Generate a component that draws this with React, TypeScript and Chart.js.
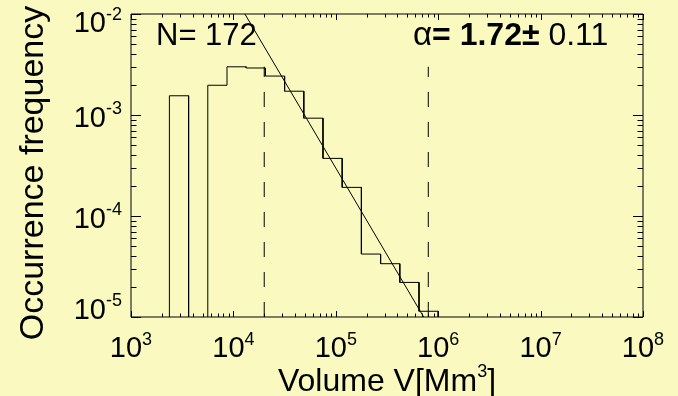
import React, { useEffect, useRef } from "react";
import { Chart, registerables } from "chart.js";

Chart.register(...registerables);

// ---- data ----
const binEdges = [2371, 3652, 5623, 8660, 13335, 20535, 31623, 48697, 74989, 115478, 177828, 273842, 421697, 649382, 1000000];
const binFreq = [1.55e-3, 0, 1.97e-3, 3.0e-3, 2.92e-3, 2.43e-3, 1.72e-3, 9.3e-4, 3.72e-4, 1.92e-4, 4.2e-5, 3.37e-5, 2.2e-5, 1.14e-5];
const fitVolume = [1.0e4, 1.0e6];
const fitFreq = [1.56e-2, 5.7e-6];
const rangeLimits = [2.0e4, 8.0e5];
const rangeTop = 3.0e-3;
const xTickExponents = ["3", "4", "5", "6", "7", "8"];
const yTickExponents = ["-2", "-3", "-4", "-5"];
const nLabel = "N= 172";
const alphaSymbol = "α";
const alphaValue = "= 1.72±";
const alphaError = " 0.11";
const xTitleMain = "Volume V[Mm";
const xTitleSup = "3";
const xTitleEnd = "]";
const yTitle = "Occurrence frequency";

const FLOOR = 1e-7;
const FONT = '"Liberation Sans", Arial, Helvetica, sans-serif';
const BG = "rgb(250,250,192)";

function stepPoints() {
  const pts: { x: number; y: number }[] = [];
  pts.push({ x: binEdges[0], y: FLOOR });
  for (let i = 0; i < binFreq.length; i++) {
    const v = binFreq[i] > 0 ? binFreq[i] : FLOOR;
    pts.push({ x: binEdges[i], y: v });
    pts.push({ x: binEdges[i + 1], y: v });
  }
  pts.push({ x: binEdges[binEdges.length - 1], y: FLOOR });
  return pts;
}

const framePlugin = {
  id: "idlFrame",
  beforeDraw(chart: any) {
    const ctx = chart.ctx;
    ctx.save();
    ctx.fillStyle = BG;
    ctx.fillRect(0, 0, chart.width, chart.height);
    ctx.restore();
  },
  afterDraw(chart: any) {
    const ctx = chart.ctx as CanvasRenderingContext2D;
    const xs = chart.scales.x;
    const ys = chart.scales.y;
    const a = chart.chartArea;
    const L = Math.round(a.left), R = Math.round(a.right), T = Math.round(a.top), B = Math.round(a.bottom);
    ctx.save();
    ctx.strokeStyle = "#000";
    ctx.lineWidth = 1;
    ctx.beginPath();
    ctx.rect(L, T, R - L, B - T);
    ctx.stroke();

    // x ticks
    ctx.beginPath();
    for (let e = 3; e <= 8; e++) {
      for (let m = 1; m <= 9; m++) {
        if (e === 8 && m > 1) break;
        const v = m * Math.pow(10, e);
        const px = Math.round(xs.getPixelForValue(v)) + 0.5;
        const len = m === 1 ? 6 : 3.5;
        ctx.moveTo(px, B);
        ctx.lineTo(px, B - len);
        ctx.moveTo(px, T);
        ctx.lineTo(px, T + len);
      }
    }
    // y ticks
    for (let e = -5; e <= -2; e++) {
      for (let m = 1; m <= 9; m++) {
        if (e === -2 && m > 1) break;
        const v = m * Math.pow(10, e);
        const py = Math.round(ys.getPixelForValue(v)) + 0.5;
        const len = m === 1 ? 10 : 5.5;
        ctx.moveTo(L, py);
        ctx.lineTo(L + len, py);
        ctx.moveTo(R, py);
        ctx.lineTo(R - len, py);
      }
    }
    ctx.stroke();

    ctx.fillStyle = "#000";
    ctx.textBaseline = "alphabetic";
    ctx.textAlign = "left";
    const baseFont = "29px " + FONT;
    const supFont = "18px " + FONT;

    const drawPow = (exp: string, x: number, baseY: number, align: "center" | "right") => {
      ctx.font = baseFont;
      const wb = ctx.measureText("10").width;
      ctx.font = supFont;
      const ws = ctx.measureText(exp).width;
      const total = wb + ws;
      const start = align === "center" ? x - total / 2 : x - total;
      ctx.font = baseFont;
      ctx.fillText("10", start, baseY);
      ctx.font = supFont;
      ctx.fillText(exp, start + wb, baseY - 12.5);
    };

    xTickExponents.forEach((ex) => {
      const px = xs.getPixelForValue(Math.pow(10, Number(ex)));
      drawPow(ex, px, B + 40, "center");
    });
    yTickExponents.forEach((ex, i) => {
      const py = ys.getPixelForValue(Math.pow(10, Number(ex)));
      let off = 11.5;
      if (i === 0) off = 18;
      if (i === yTickExponents.length - 1) off = 1.5;
      drawPow(ex, L - 9, py + off, "right");
    });

    // x title
    ctx.font = "32px " + FONT;
    const w1 = ctx.measureText(xTitleMain).width;
    const w3 = ctx.measureText(xTitleEnd).width;
    ctx.font = "18px " + FONT;
    const w2 = ctx.measureText(xTitleSup).width;
    const cx = (L + R) / 2;
    const sx = cx - (w1 + w2 + w3) / 2;
    ctx.font = "32px " + FONT;
    ctx.fillText(xTitleMain, sx, 391);
    ctx.font = "18px " + FONT;
    ctx.fillText(xTitleSup, sx + w1, 377);
    ctx.font = "32px " + FONT;
    ctx.fillText(xTitleEnd, sx + w1 + w2, 391);

    // y title
    ctx.save();
    ctx.translate(43, 173);
    ctx.rotate(-Math.PI / 2);
    ctx.textAlign = "center";
    ctx.font = "34px " + FONT;
    ctx.fillText(yTitle, 0, 0);
    ctx.restore();

    // annotations
    ctx.font = "31px " + FONT;
    ctx.fillText(nLabel, 156, 45);
    let ax = 413;
    ctx.font = "33px " + FONT;
    ctx.fillText(alphaSymbol, ax, 45);
    ax += ctx.measureText(alphaSymbol).width;
    ctx.font = "bold 32px " + FONT;
    ctx.fillText(alphaValue, ax, 45);
    ax += ctx.measureText(alphaValue).width;
    ctx.font = "32px " + FONT;
    ctx.fillText(alphaError, ax, 45);
    ctx.restore();
  },
};

export default function App() {
  const ref = useRef<HTMLCanvasElement | null>(null);
  useEffect(() => {
    document.body.style.margin = "0";
    document.body.style.overflow = "hidden";
    const canvas = ref.current!;
    const chart = new Chart(canvas, {
      type: "scatter",
      data: {
        datasets: [
          {
            data: stepPoints(),
            showLine: true,
            borderColor: "#000",
            borderWidth: 1,
            pointRadius: 0,
            tension: 0,
          },
          ...rangeLimits.map((v) => ({
            data: [
              { x: v, y: 1e-5 },
              { x: v, y: rangeTop },
            ],
            showLine: true,
            borderColor: "#000",
            borderWidth: 1,
            borderDash: [15, 15],
            pointRadius: 0,
          })),
          {
            data: fitVolume.map((x, i) => ({ x, y: fitFreq[i] })),
            showLine: true,
            borderColor: "#000",
            borderWidth: 1,
            pointRadius: 0,
          },
        ],
      },
      options: {
        animation: false,
        responsive: false,
        maintainAspectRatio: false,
        layout: { padding: { left: 131, right: 35, top: 14, bottom: 79 } },
        plugins: { legend: { display: false }, tooltip: { enabled: false } },
        scales: {
          x: { type: "logarithmic", min: 1e3, max: 1e8, display: false },
          y: { type: "logarithmic", min: 1e-5, max: 1e-2, display: false },
        },
      },
      plugins: [framePlugin],
    } as any);
    return () => chart.destroy();
  }, []);
  return (
    <div style={{ width: 678, height: 396, background: BG }}>
      <canvas ref={ref} width={678} height={396} style={{ display: "block" }} />
    </div>
  );
}
